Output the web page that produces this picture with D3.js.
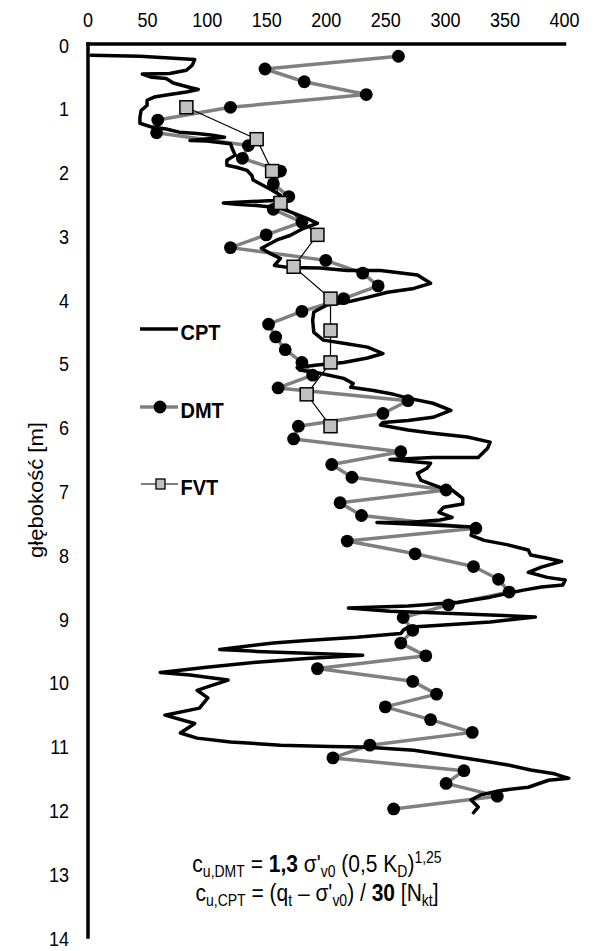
<!DOCTYPE html>
<html>
<head>
<meta charset="utf-8">
<script src="https://cdn.jsdelivr.net/npm/d3@7"></script>
<style>
  html, body { margin: 0; padding: 0; background: #fff; }
  svg { display: block; font-family: "Liberation Sans", Arial, sans-serif; }
</style>
</head>
<body>
<svg id="chart" width="610" height="951"></svg>
<script>
// ---------------- data ----------------
const xTicks = [0, 50, 100, 150, 200, 250, 300, 350, 400];
const yTicks = [0, 1, 2, 3, 4, 5, 6, 7, 8, 9, 10, 11, 12, 13, 14];

const dmtDepth = [0.2,0.4,0.6,0.8,1.0,1.2,1.4,1.6,1.8,2.0,2.2,2.4,2.6,2.8,3.0,3.2,3.4,3.6,3.8,4.0,
  4.2,4.4,4.6,4.8,5.0,5.2,5.4,5.6,5.8,6.0,6.2,6.4,6.6,6.8,7.0,7.2,7.4,7.6,7.8,8.0,
  8.2,8.4,8.6,8.8,9.0,9.2,9.4,9.6,9.8,10.0,10.2,10.4,10.6,10.8,11.0,11.2,11.4,11.6,11.8,12.0];
const dmtCu = [261,149,182,234,120,59,58,135,130,162,156,169,156,180,150,120,200,231,244,215,
  180,152,158,166,180,189,160,269,248,177,173,263,205,222,301,212,230,326,218,275,
  324,345,354,303,265,273,263,284,193,273,293,250,288,323,237,206,316,301,344,257];

const fvtDepth = [1.0,1.5,2.0,2.5,3.0,3.5,4.0,4.5,5.0,5.5,6.0];
const fvtCu = [83,142,155,162,193,173,204,204,204,184,204];

const cptDepth = [0.185,0.20,0.25,0.34,0.42,0.47,0.48,0.53,0.55,0.62,0.69,0.72,0.76,0.80,0.84,0.89,0.97,1.05,1.16,1.25,
  1.31,1.34,1.39,1.41,1.44,1.47,1.52,1.53,1.57,1.67,1.75,1.83,1.91,1.94,1.99,2.07,2.14,2.21,2.30,2.38,
  2.46,2.50,2.52,2.54,2.58,2.66,2.74,2.82,2.90,3.01,3.08,3.21,3.29,3.37,3.48,3.51,3.52,3.56,3.56,3.63,
  3.76,3.84,3.90,3.98,4.04,4.10,4.21,4.34,4.53,4.65,4.70,4.76,4.86,4.93,5.00,5.04,5.08,5.12,5.17,5.25,
  5.33,5.39,5.44,5.50,5.56,5.64,5.75,5.86,5.91,5.94,5.98,6.06,6.11,6.17,6.25,6.34,6.49,6.49,6.52,6.58,
  6.66,6.74,6.85,6.96,7.00,7.13,7.22,7.27,7.35,7.43,7.47,7.51,7.51,7.58,7.71,7.79,7.86,7.94,8.02,8.07,
  8.12,8.21,8.29,8.37,8.41,8.49,8.52,8.57,8.62,8.68,8.76,8.82,8.85,8.90,8.93,8.96,8.99,9.07,9.12,9.15,
  9.20,9.25,9.31,9.36,9.40,9.46,9.50,9.53,9.56,9.59,9.64,9.70,9.78,9.86,9.90,9.98,10.09,10.14,10.26,10.42,
  10.53,10.66,10.81,10.89,10.95,11.00,11.02,11.03,11.08,11.16,11.24,11.31,11.39,11.45,11.52,11.55,11.66,11.71,11.78,11.86,
  11.97,12.06];
const cptCu = [3,44,90,88,83,69,46,54,66,72,86,93,83,69,56,50,50,45,44,44,
  54,66,77,92,105,115,86,100,120,122,124,117,117,125,134,138,139,146,155,162,
  156,114,125,142,162,173,184,193,181,170,159,146,153,162,157,168,195,218,246,277,
  288,274,252,235,221,201,190,189,190,198,215,235,248,235,215,193,176,178,195,215,
  223,221,240,257,269,290,305,290,269,248,246,269,290,319,338,336,328,290,254,288,
  285,277,280,296,306,315,315,299,295,306,296,269,243,324,322,333,353,370,372,386,
  398,381,370,386,401,399,381,366,353,338,311,269,219,254,296,338,376,338,296,269,
  265,263,226,184,156,128,111,142,184,231,184,142,100,61,86,118,100,92,101,94,
  65,90,78,92,120,162,204,232,274,302,330,353,372,392,404,387,370,347,330,322,
  328,324];

const legendNames = ["CPT", "DMT", "FVT"];
const yTitle = "głębokość [m]";

// ---------------- layout ----------------
const STRETCH = 1.13;
const svg = d3.select("#chart");
const x = d3.scaleLinear().domain([0, 400]).range([87.5, 564]);
const y = d3.scaleLinear().domain([0, 14]).range([43.5, 936.5]);

const dmt = dmtDepth.map((d, i) => ({ d, v: dmtCu[i] }));
const fvt = fvtDepth.map((d, i) => ({ d, v: fvtCu[i] }));
const cpt = cptDepth.map((d, i) => ({ d, v: cptCu[i] }));

const line = d3.line().x(p => x(p.v)).y(p => y(p.d));

// DMT connecting line
svg.append("path").datum(dmt).attr("d", line)
  .attr("fill", "none").attr("stroke", "#808080").attr("stroke-width", 3.5)
  .attr("stroke-linejoin", "round");

// CPT line
svg.append("path").datum(cpt).attr("d", line)
  .attr("fill", "none").attr("stroke", "#000").attr("stroke-width", 3.5)
  .attr("stroke-linejoin", "round").attr("stroke-linecap", "round");

// DMT markers
svg.append("g").selectAll("circle").data(dmt).join("circle")
  .attr("cx", p => x(p.v)).attr("cy", p => y(p.d)).attr("r", 6.4)
  .attr("fill", "#000");

// FVT line + markers
svg.append("path").datum(fvt).attr("d", line)
  .attr("fill", "none").attr("stroke", "#000").attr("stroke-width", 1.2);
const sq = 13;
svg.append("g").selectAll("rect").data(fvt).join("rect")
  .attr("x", p => x(p.v) - sq / 2).attr("y", p => y(p.d) - sq / 2)
  .attr("width", sq).attr("height", sq)
  .attr("fill", "#c0c0c0").attr("stroke", "#000").attr("stroke-width", 1.5);

// ---------------- axes ----------------
const gx = svg.append("g").attr("transform", `translate(0,${y(0)})`)
  .call(d3.axisTop(x).tickValues(xTicks).tickSize(0).tickSizeOuter(0));
gx.select(".domain").attr("stroke", "#000").attr("stroke-width", 3.5).attr("stroke-linecap", "square");
gx.selectAll(".tick text")
  .attr("y", 0).attr("dy", null)
  .attr("transform", `translate(0,-16.5) scale(1,${STRETCH})`)
  .attr("font-size", 18).attr("font-family", "Liberation Sans, Arial, sans-serif")
  .attr("fill", "#000").attr("text-anchor", "middle");

const gy = svg.append("g").attr("transform", `translate(${x(0)},0)`)
  .call(d3.axisLeft(y).tickValues(yTicks).tickSize(0).tickSizeOuter(0));
gy.select(".domain").attr("stroke", "#000").attr("stroke-width", 3.5).attr("stroke-linecap", "square");
gy.selectAll(".tick text")
  .attr("x", 0).attr("y", 0).attr("dy", null)
  .attr("transform", `translate(-18.5,8.5) scale(1,${STRETCH})`)
  .attr("font-size", 18).attr("font-family", "Liberation Sans, Arial, sans-serif")
  .attr("fill", "#000").attr("text-anchor", "end");

// y axis title
svg.append("text")
  .attr("transform", `translate(43,490) scale(1,${STRETCH}) rotate(-90)`)
  .attr("text-anchor", "middle").attr("font-size", 19.5).attr("fill", "#000")
  .text(yTitle);

// ---------------- legend ----------------
const legY = [329, 407, 484];
const lg = svg.append("g");
// CPT
lg.append("line").attr("x1", 140).attr("x2", 178).attr("y1", legY[0]).attr("y2", legY[0])
  .attr("stroke", "#000").attr("stroke-width", 3.5);
// DMT
lg.append("line").attr("x1", 140).attr("x2", 178).attr("y1", legY[1]).attr("y2", legY[1])
  .attr("stroke", "#808080").attr("stroke-width", 3.5);
lg.append("circle").attr("cx", 160).attr("cy", legY[1]).attr("r", 6.4).attr("fill", "#000");
// FVT
lg.append("line").attr("x1", 141).attr("x2", 178).attr("y1", legY[2]).attr("y2", legY[2])
  .attr("stroke", "#000").attr("stroke-width", 1.2);
lg.append("rect").attr("x", 156).attr("y", legY[2] - 5).attr("width", 9).attr("height", 10)
  .attr("fill", "#c0c0c0").attr("stroke", "#000").attr("stroke-width", 1.3);
legendNames.forEach((n, i) => {
  lg.append("text")
    .attr("transform", `translate(180.5,${legY[i] + 11}) scale(1,${STRETCH})`)
    .attr("font-size", 20).attr("font-weight", "bold").attr("fill", "#000")
    .text(n);
});

// ---------------- formulas ----------------
function formula(yBase, parts) {
  const t = svg.append("text")
    .attr("transform", `translate(317,${yBase}) scale(1,${STRETCH})`)
    .attr("text-anchor", "middle").attr("font-size", 21).attr("fill", "#000");
  let shift = 0;
  parts.forEach(p => {
    const ts = t.append("tspan").text(p.t);
    let target = 0;
    if (p.sub) { target = 4; ts.attr("font-size", 14); }
    if (p.sup) { target = -8; ts.attr("font-size", 14); }
    ts.attr("dy", target - shift);
    shift = target;
    if (p.b) ts.attr("font-weight", "bold");
  });
}
formula(872, [
  { t: "c" }, { t: "u,DMT", sub: 1 }, { t: " = " }, { t: "1,3", b: 1 }, { t: " σ'" },
  { t: "v0", sub: 1 }, { t: " (0,5 K" }, { t: "D", sub: 1 }, { t: ")" }, { t: "1,25", sup: 1 }
]);
formula(901, [
  { t: "c" }, { t: "u,CPT", sub: 1 }, { t: " = (q" }, { t: "t", sub: 1 }, { t: " – σ'" },
  { t: "v0", sub: 1 }, { t: ") / " }, { t: "30", b: 1 }, { t: " [N" }, { t: "kt", sub: 1 }, { t: "]" }
]);
</script>
</body>
</html>
